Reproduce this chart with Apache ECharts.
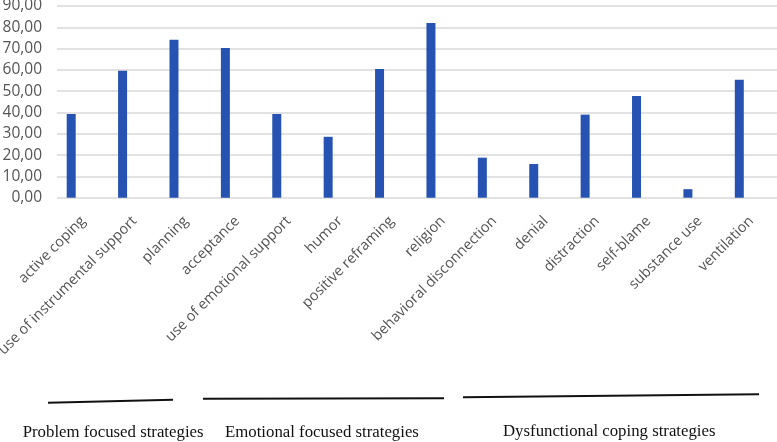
<!DOCTYPE html>
<html>
<head>
<meta charset="utf-8">
<script src="https://cdn.jsdelivr.net/npm/echarts@6/dist/echarts.min.js"></script>
<style>
html,body{margin:0;padding:0;background:#fff;}
#chart{width:777px;height:442px;}
</style>
</head>
<body>
<div id="chart"></div>
<script>
const categories = [
  'active coping', 'use of instrumental support', 'planning',
  'acceptance', 'use of emotional support', 'humor', 'positive reframing', 'religion',
  'behavioral disconnection', 'denial', 'distraction', 'self-blame', 'substance use', 'ventilation'
];
const values = [39.3, 59.6, 74.1, 70.3, 39.3, 28.6, 60.4, 82.0, 18.8, 15.8, 39.0, 47.8, 4.0, 55.4];
const yMin = 0, yMax = 90, yStep = 10;
const groupLabels = ['Problem focused strategies', 'Emotional focused strategies', 'Dysfunctional coping strategies'];

const GRAY = '#555555';
const chart = echarts.init(document.getElementById('chart'), null, {renderer: 'canvas'});
const gTop = 6, gBottom = 442 - 197.7;

const fmt = v => v.toFixed(2).replace('.', ',');

chart.setOption({
  animation: false,
  backgroundColor: '#ffffff',
  grid: [
    {left: 57, right: 0, top: gTop, bottom: gBottom, containLabel: false, outerBoundsMode: 'none'},
    {left: 45.5, right: 12, top: gTop, bottom: gBottom, containLabel: false, outerBoundsMode: 'none'}
  ],
  xAxis: [
    {gridIndex: 0, type: 'value', show: false, min: 0, max: 1},
    {
      gridIndex: 1, type: 'category', data: categories,
      axisLine: {show: false}, axisTick: {show: false},
      axisLabel: {
        interval: 0, rotate: 45, margin: 9, lineHeight: 34,
        formatter: v => '\n' + v,
        color: GRAY, fontSize: 14.5, fontFamily: 'Open Sans'
      }
    }
  ],
  yAxis: [
    {
      gridIndex: 0, type: 'value', min: yMin, max: yMax, interval: yStep,
      axisLine: {show: false}, axisTick: {show: false},
      axisLabel: {formatter: fmt, color: GRAY, fontSize: 15.5, fontFamily: 'Open Sans', margin: 15},
      splitLine: {lineStyle: {color: '#d9d9d9', width: 1.5}}
    },
    {gridIndex: 1, type: 'value', min: yMin, max: yMax, interval: yStep, show: false, splitLine: {show: false}}
  ],
  series: [{
    type: 'bar', xAxisIndex: 1, yAxisIndex: 1,
    data: values, barWidth: 9,
    itemStyle: {color: '#2653b2'}
  }],
  graphic: [
    {type: 'line', shape: {x1: 48, y1: 402.7, x2: 173, y2: 399.7}, style: {stroke: '#111', lineWidth: 2}},
    {type: 'line', shape: {x1: 203, y1: 398.7, x2: 444, y2: 398.2}, style: {stroke: '#111', lineWidth: 2}},
    {type: 'line', shape: {x1: 463, y1: 397.3, x2: 759, y2: 394.3}, style: {stroke: '#111', lineWidth: 2}},
    {type: 'text', x: 22.7, y: 432.8, style: {text: groupLabels[0], font: '16.8px "Liberation Serif"', fill: '#111', textVerticalAlign: 'middle'}},
    {type: 'text', x: 225, y: 432.8, style: {text: groupLabels[1], font: '16.8px "Liberation Serif"', fill: '#111', textVerticalAlign: 'middle'}},
    {type: 'text', x: 503, y: 431.8, style: {text: groupLabels[2], font: '16.8px "Liberation Serif"', fill: '#111', textVerticalAlign: 'middle'}}
  ]
});
</script>
</body>
</html>
